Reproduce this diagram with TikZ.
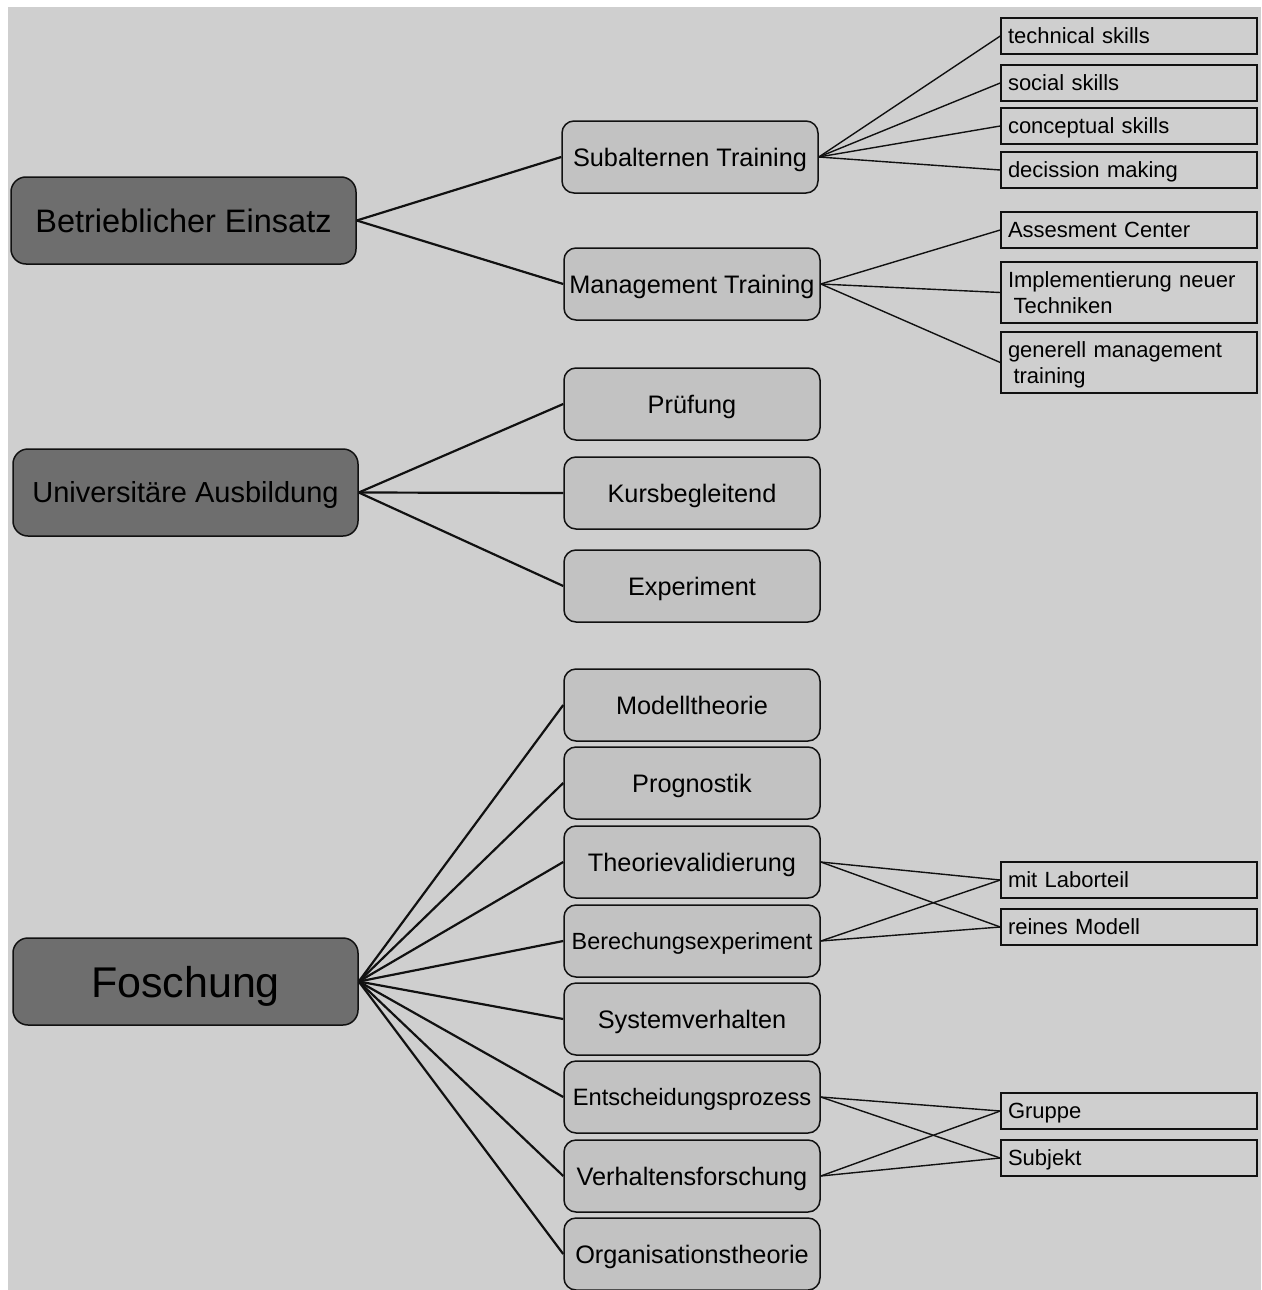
\documentclass[tikz,border=0pt]{standalone}
\usepackage{fontspec}
\setmainfont{Liberation Sans}
\definecolor{canvas}{HTML}{CFCFCF}
\definecolor{rootgray}{HTML}{6E6E6E}
\definecolor{midgray}{HTML}{C2C2C2}
\definecolor{ink}{HTML}{111111}
\newcommand{\fs}[1]{\fontsize{#1}{1.22\dimexpr#1pt\relax}\selectfont}
\begin{document}
\begin{tikzpicture}[x=1pt,y=-1pt,
  % text size together with a cap-height box, so labels sit on their box centre
  sz/.style 2 args={font=\fs{#1}, text height=#2, text depth=0pt},
  rootbox/.style={draw=ink, line width=1.5pt, rounded corners=15pt, fill=rootgray,
    minimum width=345pt, minimum height=87pt, inner sep=0pt, text=black},
  midbox/.style={draw=ink, line width=1.5pt, rounded corners=12pt, fill=midgray,
    minimum width=256pt, minimum height=72pt, inner sep=0pt, sz={25.3}{18.2pt}},
  leafbox/.style={draw=ink, line width=1.5pt, text width=242pt, inner xsep=7pt,
    inner ysep=0pt, minimum height=36pt, align=left, sz={22}{15.8pt}},
  % second line hangs below the first baseline by one line skip
  twoline/.style={minimum height=61pt, text depth=26.8pt},
  trunk/.style={draw=ink, line width=2.2pt},
  twig/.style={draw=ink, line width=1.4pt}]
\useasboundingbox (0,0) rectangle (1261,1290);
\fill[canvas] (8,7) rectangle (1261,1290);

% roots
\node[rootbox, sz={32.5}{23.4pt}] (be) at (183.5,220.5) {Betrieblicher Einsatz};
\node[rootbox, sz={29}{20.9pt}] (ua) at (185.5,492.5) {Universitäre Ausbildung};
\node[rootbox, sz={43}{31pt}] (fo) at (185.5,981.5) {Foschung};

% second level
\node[midbox] (sub) at (690,157) {Subalternen Training};
\node[midbox] (man) at (692,284) {Management Training};
\node[midbox] (pru) at (692,404) {Prüfung};
\node[midbox] (kur) at (692,493) {Kursbegleitend};
\node[midbox] (exp) at (692,586) {Experiment};
\node[midbox] (mod) at (692,705) {Modelltheorie};
\node[midbox] (pro) at (692,783) {Prognostik};
\node[midbox] (the) at (692,862) {Theorievalidierung};
\node[midbox, sz={23.4}{16.8pt}] (ber) at (692,941) {Berechungsexperiment};
\node[midbox] (sys) at (692,1019) {Systemverhalten};
\node[midbox, sz={23.7}{17.1pt}] (ent) at (692,1097) {Entscheidungsprozess};
\node[midbox] (ver) at (692,1176) {Verhaltensforschung};
\node[midbox] (org) at (692,1254) {Organisationstheorie};

% leaves
\node[leafbox] (tec) at (1129,36) {technical skills};
\node[leafbox] (soc) at (1129,83) {social skills};
\node[leafbox] (con) at (1129,126) {conceptual skills};
\node[leafbox] (dec) at (1129,170) {decission making};
\node[leafbox] (ass) at (1129,230) {Assesment Center};
\node[leafbox, twoline] (imp) at (1129,292.5) {Implementierung neuer\\\hspace*{0.25em}Techniken};
\node[leafbox, twoline] (gen) at (1129,362.5) {generell management\\\hspace*{0.25em}training};
\node[leafbox] (lab) at (1129,880) {mit Laborteil};
\node[leafbox] (rei) at (1129,927) {reines Modell};
\node[leafbox] (gru) at (1129,1111) {Gruppe};
\node[leafbox] (sbj) at (1129,1158) {Subjekt};

% trunk connectors
\foreach \t in {sub,man} \draw[trunk] (be.east) -- (\t.west);
\foreach \t in {pru,kur,exp} \draw[trunk] (ua.east) -- (\t.west);
\foreach \t in {mod,pro,the,ber,sys,ent,ver,org} \draw[trunk] (fo.east) -- (\t.west);

% twig connectors
\foreach \t in {tec,soc,con,dec} \draw[twig] (sub.east) -- (\t.west);
\foreach \t in {ass,imp,gen} \draw[twig] (man.east) -- (\t.west);
\foreach \s in {the,ber} \foreach \t in {lab,rei} \draw[twig] (\s.east) -- (\t.west);
\foreach \s in {ent,ver} \foreach \t in {gru,sbj} \draw[twig] (\s.east) -- (\t.west);
\end{tikzpicture}
\end{document}
